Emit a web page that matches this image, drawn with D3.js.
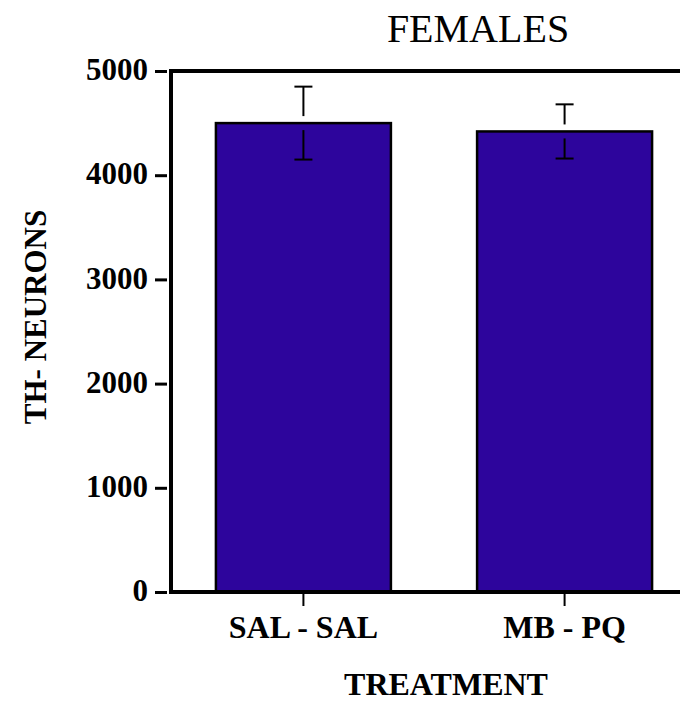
<!DOCTYPE html>
<html>
<head>
<meta charset="utf-8">
<script src="https://cdn.jsdelivr.net/npm/d3@7"></script>
<style>
    body { margin: 0; background: #fff; }
    #chart text { font-family: "Times New Roman", "Liberation Serif", serif; fill: #000; }
    .tick-label, .axis-title, .cat-label { font-weight: bold; }
</style>
</head>
<body>
<div id="chart"></div>
<script>
// data
let treatments = ["SAL - SAL", "MB - PQ"];
let means = [4500, 4420];
let sems = [350, 260];
let yTicks = [0, 1000, 2000, 3000, 4000, 5000];

let serif = '"Times New Roman", "Liberation Serif", serif';
let width = 680, height = 701;
// plot frame (the right side runs past the window edge, like the original)
let margin = {top: 71, left: 171, bottom: 109};
let plotRight = 697;

let svg = d3.select("#chart").append("svg")
    .attr("width", width)
    .attr("height", height);

let x = d3.scaleBand()
    .domain(treatments)
    .range([margin.left, plotRight])
    .paddingInner(0.33)
    .paddingOuter(0.172);

let y = d3.scaleLinear()
    .domain([0, 5000])
    .range([height - margin.bottom, margin.top]);

// title
svg.append("text")
    .attr("x", 478)
    .attr("y", 42)
    .attr("text-anchor", "middle")
    .style("font-family", serif)
    .style("font-size", "40px")
    .style("font-weight", "normal")
    .text("FEMALES");

// bars
svg.append("g").selectAll("rect")
    .data(means)
    .enter().append("rect")
    .attr("x", (d, i) => x(treatments[i]))
    .attr("y", d => y(d))
    .attr("width", x.bandwidth())
    .attr("height", d => y(0) - y(d))
    .attr("fill", "#2d059c")
    .attr("stroke", "#000")
    .attr("stroke-width", 2.5);

// error bars, drawn with a small gap at the mean
let gap = 7, capW = 18;
let err = svg.append("g").attr("stroke", "#000").attr("stroke-width", 2);
means.forEach((m, i) => {
    let cx = x(treatments[i]) + x.bandwidth() / 2;
    let top = y(m + sems[i]), bot = y(m - sems[i]), mid = y(m);
    err.append("line").attr("x1", cx).attr("x2", cx).attr("y1", top).attr("y2", mid - gap);
    err.append("line").attr("x1", cx - capW / 2).attr("x2", cx + capW / 2).attr("y1", top).attr("y2", top);
    err.append("line").attr("x1", cx).attr("x2", cx).attr("y1", mid + gap).attr("y2", bot);
    err.append("line").attr("x1", cx - capW / 2).attr("x2", cx + capW / 2).attr("y1", bot).attr("y2", bot);
});

// frame: left, top, bottom lines
let frame = svg.append("g").attr("stroke", "#000").attr("fill", "none");
frame.append("line")
    .attr("x1", margin.left).attr("x2", margin.left)
    .attr("y1", y(5000) - 2).attr("y2", y(0) + 2)
    .attr("stroke-width", 4);
frame.append("line")
    .attr("x1", margin.left - 2).attr("x2", plotRight)
    .attr("y1", y(5000)).attr("y2", y(5000))
    .attr("stroke-width", 4);
frame.append("line")
    .attr("x1", margin.left - 2).attr("x2", plotRight)
    .attr("y1", y(0)).attr("y2", y(0))
    .attr("stroke-width", 4);

// y axis
let yAxis = svg.append("g")
    .attr("transform", `translate(${margin.left - 4},0)`)
    .call(d3.axisLeft(y).tickValues(yTicks).tickSize(12).tickPadding(7).tickFormat(d3.format("d")));
yAxis.select(".domain").remove();
yAxis.selectAll(".tick line").attr("stroke", "#000").attr("stroke-width", 3);
yAxis.selectAll(".tick text")
    .attr("class", "tick-label")
    .attr("dy", "0.28em")
    .style("font-family", serif)
    .style("font-size", "31px");

// x axis
let xAxis = svg.append("g")
    .attr("transform", `translate(0,${y(0) + 2})`)
    .call(d3.axisBottom(x).tickSize(12).tickPadding(9));
xAxis.select(".domain").remove();
xAxis.selectAll(".tick line").attr("stroke", "#000").attr("stroke-width", 2);
xAxis.selectAll(".tick text")
    .attr("class", "cat-label")
    .attr("dy", "0.71em")
    .style("font-family", serif)
    .style("font-size", "32px");

// axis titles
svg.append("text")
    .attr("class", "axis-title")
    .attr("transform", "translate(46,317) rotate(-90)")
    .attr("text-anchor", "middle")
    .style("font-family", serif)
    .style("font-size", "31px")
    .text("TH- NEURONS");

svg.append("text")
    .attr("class", "axis-title")
    .attr("x", 446)
    .attr("y", 695)
    .attr("text-anchor", "middle")
    .style("font-family", serif)
    .style("font-size", "32px")
    .text("TREATMENT");
</script>
</body>
</html>
